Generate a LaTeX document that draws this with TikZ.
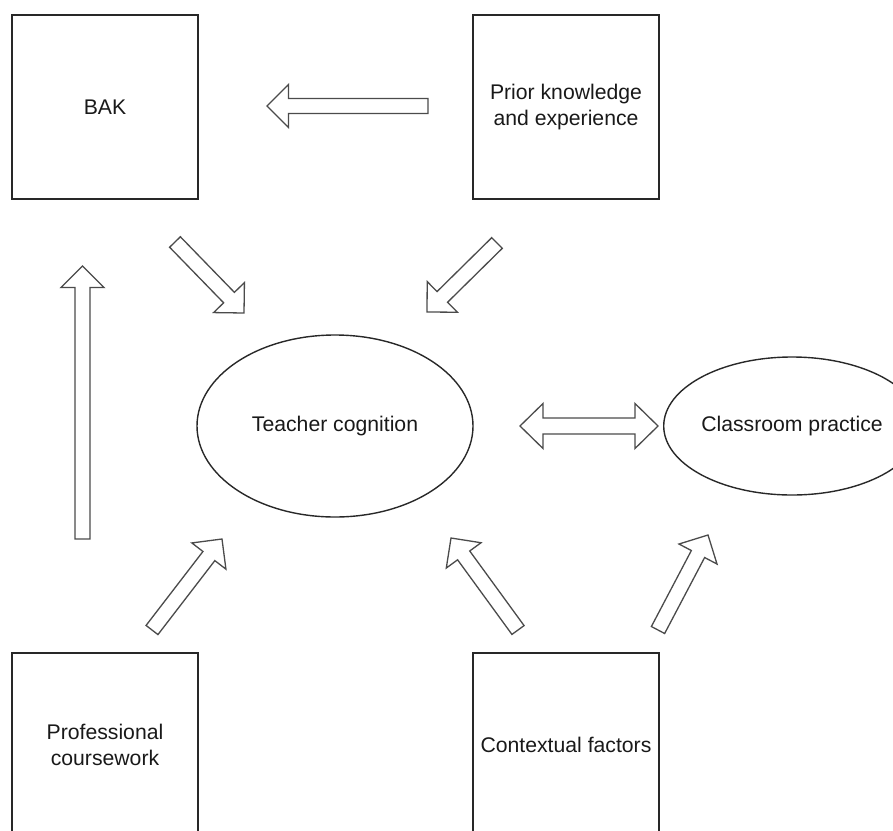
\documentclass[tikz,border=0pt]{standalone}
\usepackage{fontspec}
\setmainfont{Liberation Sans}
\usetikzlibrary{positioning,shapes,calc}
\definecolor{framegray}{RGB}{40,40,40}
\definecolor{arrowgray}{RGB}{75,75,75}

% hollow block arrow from #1 (tail) to #2 (tip)
\newcommand{\hollowarrow}[2]{%
  \coordinate (ha-base) at ($(#2)!10.75pt!(#1)$);
  \draw[hollow] ($(#1)!3.75pt!90:(#2)$) -- ($(ha-base)!3.75pt!-90:(#1)$)
    -- ($(ha-base)!10.75pt!-90:(#1)$) -- (#2) -- ($(ha-base)!10.75pt!90:(#1)$)
    -- ($(ha-base)!3.75pt!90:(#1)$) -- ($(#1)!3.75pt!-90:(#2)$) -- cycle;}

% hollow block arrow with a head at both ends
\newcommand{\hollowtwoway}[2]{%
  \coordinate (ha-a) at ($(#1)!11.5pt!(#2)$);
  \coordinate (ha-b) at ($(#2)!11.5pt!(#1)$);
  \draw[hollow] (#1) -- ($(ha-a)!11.25pt!90:(#2)$) -- ($(ha-a)!4pt!90:(#2)$)
    -- ($(ha-b)!4pt!-90:(#1)$) -- ($(ha-b)!11.25pt!-90:(#1)$) -- (#2)
    -- ($(ha-b)!11.25pt!90:(#1)$) -- ($(ha-b)!4pt!90:(#1)$)
    -- ($(ha-a)!4pt!-90:(#2)$) -- ($(ha-a)!11.25pt!-90:(#2)$) -- cycle;}

\begin{document}
\begin{tikzpicture}[
    x=0.5pt, y=-0.5pt,
    every node/.style={font=\fontsize{10.6pt}{13pt}\selectfont, text=black!90},
    box/.style={rectangle, draw=framegray, line width=0.9pt, minimum width=93pt, minimum height=92pt, inner sep=0pt, align=center},
    oval/.style={ellipse, draw=framegray, line width=0.7pt, inner sep=0pt, align=center},
    hollow/.style={draw=arrowgray, line width=0.65pt, fill=white, line join=miter}
]
\useasboundingbox (0,0) rectangle (893,830);
\clip (0,0) rectangle (893,830);

\node[box] (bak) at (105,107) {BAK};
\node[box] (prior) at (566,107) {Prior knowledge\\and experience};
\node[box] (course) at (105,745) {Professional\\coursework};
\node[box] (context) at (566,745) {Contextual factors};
\node[oval, minimum width=138pt, minimum height=91pt] (cog) at (335,426) {Teacher cognition};
\node[oval, minimum width=100pt, minimum height=69pt] (practice) at (792,426) {Classroom practice};

% arrow ends
\coordinate (prior-bak-s) at (428,106);
\coordinate (prior-bak-t) at (267,106);
\coordinate (course-bak-s) at (82.5,539);
\coordinate (course-bak-t) at (82.5,266);
\coordinate (bak-cog-s) at (175,242);
\coordinate (bak-cog-t) at (244,313);
\coordinate (prior-cog-s) at (497,243);
\coordinate (prior-cog-t) at (427,312);
\coordinate (course-cog-s) at (152,630);
\coordinate (course-cog-t) at (222,539);
\coordinate (context-cog-s) at (518,630);
\coordinate (context-cog-t) at (451,538);
\coordinate (context-practice-s) at (658,630);
\coordinate (context-practice-t) at (708,535);
\coordinate (cog-practice-a) at (520,426);
\coordinate (cog-practice-b) at (658,426);

\hollowarrow{prior-bak-s}{prior-bak-t}
\hollowarrow{course-bak-s}{course-bak-t}
\hollowarrow{bak-cog-s}{bak-cog-t}
\hollowarrow{prior-cog-s}{prior-cog-t}
\hollowarrow{course-cog-s}{course-cog-t}
\hollowarrow{context-cog-s}{context-cog-t}
\hollowarrow{context-practice-s}{context-practice-t}
\hollowtwoway{cog-practice-a}{cog-practice-b}

\end{tikzpicture}
\end{document}
